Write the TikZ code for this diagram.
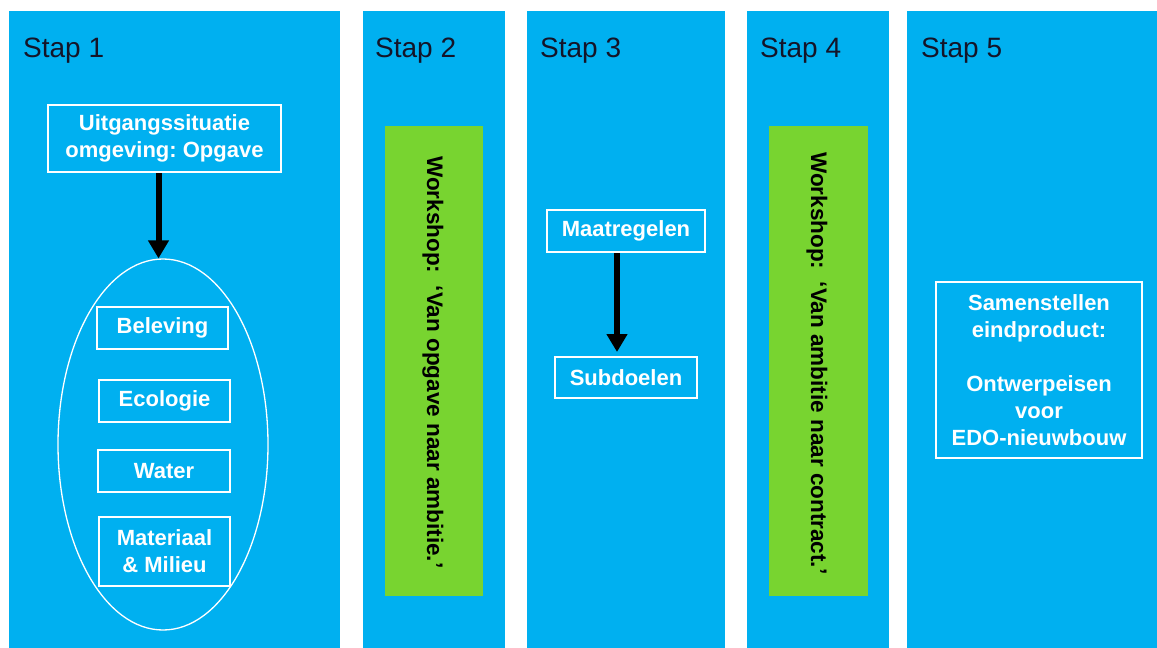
\documentclass[tikz,border=0pt]{standalone}
\usepackage{fontspec}
\setmainfont{Liberation Sans}
\usetikzlibrary{shapes.geometric,arrows.meta,calc}
\definecolor{panelblue}{RGB}{0,176,240}
\definecolor{wsgreen}{RGB}{120,212,48}
\definecolor{stapink}{RGB}{20,20,40}
\frenchspacing
\begin{document}
\frenchspacing
\begin{tikzpicture}[x=1pt,y=-1pt,
  panel/.style={fill=panelblue, draw=none},
  wbox/.style={draw=white, line width=2pt, text=white, font=\fontsize{22}{27}\selectfont\bfseries, align=center, inner sep=0pt},
  steplabel/.style={anchor=base west, inner sep=0pt, text=stapink, font=\fontsize{28}{34}\selectfont},
  greenbar/.style={fill=wsgreen, draw=none, inner sep=0pt},
  wstext/.style={rotate=-90, anchor=west, inner sep=0pt, font=\fontsize{22.5}{27}\selectfont\bfseries, text=black},
  flow/.style={line width=6pt, -{Triangle[width=20pt,length=18pt]}, black}
]
\fill[white] (0,0) rectangle (1157,648);
\useasboundingbox (0,0) rectangle (1157,648);
% panels
\fill[panel] (9,11) rectangle (340,648);
\fill[panel] (363,11) rectangle (505,648);
\fill[panel] (527,11) rectangle (725,648);
\fill[panel] (747,11) rectangle (889,648);
\fill[panel] (907,11) rectangle (1157,648);
% step labels
\node[steplabel] (s1) at (23,57) {Stap 1};
\node[steplabel] (s2) at (375,57) {Stap 2};
\node[steplabel] (s3) at (540,57) {Stap 3};
\node[steplabel] (s4) at (760,57) {Stap 4};
\node[steplabel] (s5) at (921,57) {Stap 5};
% stap 1
\node[wbox, minimum width=233pt, minimum height=67pt] (uitg) at (164.5,138.5) {Uitgangssituatie\\omgeving: Opgave};
\node[ellipse, draw=white, line width=1.3pt, minimum width=210pt, minimum height=371pt, inner sep=0pt] (ell) at (163,444.5) {};
\node[wbox, minimum width=131pt, minimum height=42pt] (bel) at (162.5,328) {Beleving};
\node[wbox, minimum width=131pt, minimum height=42pt] (eco) at (164.5,401) {Ecologie};
\node[wbox, minimum width=132pt, minimum height=42pt] (wat) at (164,471) {Water};
\node[wbox, minimum width=131pt, minimum height=69pt] (mat) at (164.5,551.5) {Materiaal\\\& Milieu};
\coordinate (a1x) at (158.5,0);
\draw[flow] (uitg.south -| a1x) -- (ell.north -| a1x);
% stap 2
\node[greenbar, minimum width=98pt, minimum height=470pt] (g2) at (434,361) {};
\node[wstext] (w2) at (433,156) {Workshop:\ \ ‘Van opgave naar ambitie.’};
% stap 3
\node[wbox, minimum width=158pt, minimum height=42pt] (maat) at (626,231) {Maatregelen};
\node[wbox, minimum width=142pt, minimum height=41pt] (sub) at (626,377.5) {Subdoelen};
\coordinate (a3x) at (617,0);
\draw[flow, shorten >=4pt] (maat.south -| a3x) -- (sub.north -| a3x);
% stap 4
\node[greenbar, minimum width=99pt, minimum height=470pt] (g4) at (818.5,361) {};
\node[wstext] (w4) at (817,152) {Workshop:\ \ ‘Van ambitie naar contract.’};
% stap 5
\node[wbox, minimum width=206pt, minimum height=176pt] (s5box) at (1039,370) {Samenstellen\\eindproduct:\\[27pt]Ontwerpeisen\\voor\\EDO-nieuwbouw};
\end{tikzpicture}
\end{document}
